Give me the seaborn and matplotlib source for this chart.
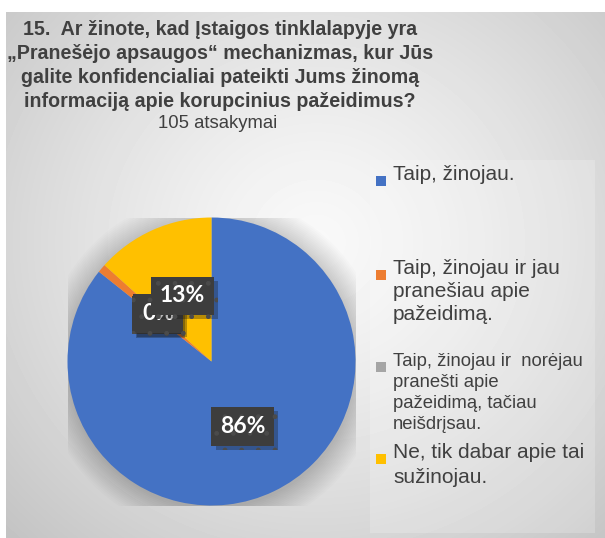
import numpy as np
import seaborn as sns
import matplotlib
import matplotlib.pyplot as plt
from matplotlib.patches import Rectangle, Circle
import matplotlib.patheffects as pe

matplotlib.use("Agg")

# data
categories = [
    "Taip, žinojau.",
    "Taip, žinojau ir jau pranešiau apie pažeidimą.",
    "Taip, žinojau ir  norėjau pranešti apie pažeidimą, tačiau neišdrįsau.",
    "Ne, tik dabar apie tai sužinojau.",
]
counts = [90, 1, 0, 14]
legend_lines = [
    ["Taip, žinojau."],
    ["Taip, žinojau ir jau", "pranešiau apie", "pažeidimą."],
    ["Taip, žinojau ir  norėjau", "pranešti apie", "pažeidimą, tačiau",
     "neišdrįsau."],
    ["Ne, tik dabar apie tai", "sužinojau."],
]
colors = ["#4472c4", "#ed7d31", "#a5a5a5", "#ffc000"]
title_lines = [
    "15.  Ar žinote, kad Įstaigos tinklalapyje yra",
    "„Pranešėjo apsaugos“ mechanizmas, kur Jūs",
    "galite konfidencialiai pateikti Jums žinomą",
    "informaciją apie korupcinius pažeidimus?",
]
subtitle = "105 atsakymai"

W, H = 605, 538


def fx(px):
    return px / W


def fy(py):
    return 1 - py / H


def draw():
    sns.set_theme(style="white")
    plt.rcParams["font.family"] = ["Liberation Sans", "DejaVu Sans"]
    text_color = "#404040"

    fig = plt.figure(figsize=(W / 100, H / 100), dpi=100)
    fig.patch.set_facecolor("white")

    # chart area background with radial gradient
    bg = fig.add_axes([fx(6), 0, fx(599), 526 / H])
    yy, xx = np.mgrid[0:526, 0:599]
    d = np.hypot(xx - 310, (yy - 230) * 1.05) / 420
    shade = 0.975 - 0.20 * np.clip(d, 0, 1.2) ** 1.3
    bg.imshow(shade, cmap="gray", vmin=0, vmax=1, aspect="auto",
              interpolation="bilinear")
    bg.axis("off")

    # legend panel
    fig.patches.append(Rectangle((fx(370), fy(533)), fx(225), 373 / H,
                                 transform=fig.transFigure, fc="white",
                                 alpha=0.2, ec="none", zorder=1))

    # pie
    r_px = 144
    cx, cy = 211.5, 361.5
    ax = fig.add_axes([fx(cx - r_px), fy(cy + r_px), fx(2 * r_px),
                       2 * r_px / H])
    ax.set_facecolor("none")
    for k in range(16):
        ax.add_patch(Circle((0.01, -0.02), 1.0 + k * 0.012, fc="#000000",
                            alpha=0.01, ec="none", zorder=0))
    wedges, texts, autotexts = ax.pie(
        counts, colors=colors, startangle=90, counterclock=False,
        autopct="%1.0f%%", pctdistance=0.5, radius=1.0,
        wedgeprops=dict(linewidth=0))
    for w in wedges:
        w.set_zorder(2)
    for i, t in enumerate(autotexts):
        t.set_color("white")
        t.set_fontsize(16.5)
        t.set_fontweight("bold")
        t.set_family(["Lato", "DejaVu Sans"])
        t.set_zorder(3 + i)
        t.set_bbox(dict(boxstyle="square,pad=0.38", fc="#3d3d3d",
                        ec="#4b4b4b", lw=0, hatch="."))
        t.get_bbox_patch().set_path_effects(
            [pe.SimplePatchShadow(offset=(3, -3), alpha=0.3),
             pe.Normal()])
    ax.set_xlim(-1, 1)
    ax.set_ylim(-1, 1)
    ax.axis("off")

    # title, one line at a time
    for j, line in enumerate(title_lines):
        fig.text(fx(220), fy(35 + j * 24), line, ha="center",
                 va="baseline", fontsize=14.1, fontweight="bold",
                 color=text_color)
    fig.text(fx(218), fy(128), subtitle, ha="center", va="baseline",
             fontsize=13.3, color=text_color)

    # legend
    starts = [180, 274, 366, 458]
    steps = [23, 23, 21, 25]
    sizes = [15, 15, 13.3, 15]
    for lines, c, y0, step, fs in zip(legend_lines, colors, starts, steps,
                                      sizes):
        fig.patches.append(Rectangle((fx(376), fy(y0 + 6)), fx(10), 10 / H,
                                     transform=fig.transFigure, fc=c,
                                     ec="none", zorder=3))
        for j, line in enumerate(lines):
            fig.text(fx(393), fy(y0 + j * step), line, ha="left",
                     va="baseline", fontsize=fs, color=text_color)

    fig.savefig("out.png", dpi=100, facecolor="white")


def main():
    try:
        draw()
    except Exception as e:
        print("Error:", e)
        raise


if __name__ == "__main__":
    main()
